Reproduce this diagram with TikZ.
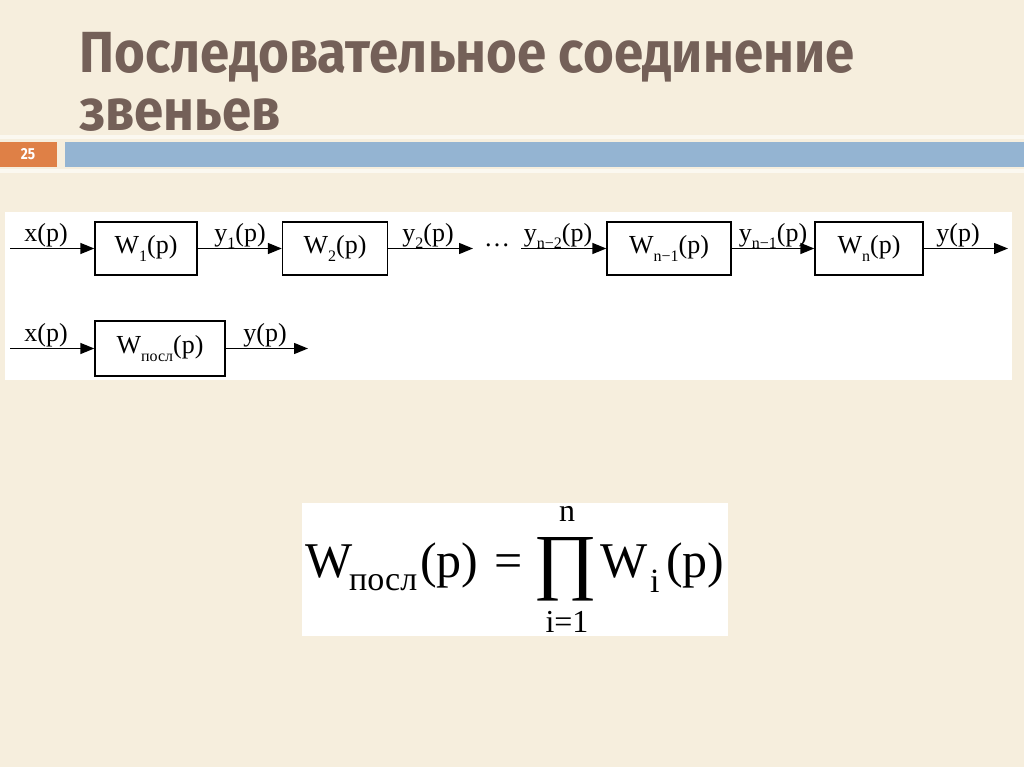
\documentclass[tikz,border=0pt]{standalone}
\usepackage{fontspec}
\usepackage{graphicx}
\setmainfont{Liberation Serif}
\newfontfamily\titlefont{Fira Sans}
\usetikzlibrary{arrows.meta}
\definecolor{bg}{RGB}{246,238,221}
\definecolor{titlec}{RGB}{116,96,88}
\definecolor{barblue}{RGB}{148,180,210}
\definecolor{barorange}{RGB}{223,128,70}
\definecolor{hilite}{RGB}{251,248,240}
\newcommand\dsub[1]{\raisebox{-0.3em}{\fontsize{16}{16}\selectfont #1}}
\begin{document}
\begin{tikzpicture}[x=1pt,y=-1pt,
  blk/.style={draw, line width=1.4pt, minimum height=53pt, inner sep=0pt, font=\fontsize{26}{26}\selectfont},
  sig/.style={line width=1.4pt, -{Triangle[length=14pt,width=11pt]}},
  lbl/.style={anchor=base, inner sep=0pt, font=\fontsize{26}{26}\selectfont},
  ttl/.style={anchor=base west, inner sep=0pt, text=titlec, font=\titlefont\bfseries\fontsize{58}{58}\selectfont},
  fml/.style={anchor=base west, inner sep=0pt, font=\fontsize{50}{50}\selectfont},
  fsm/.style={inner sep=0pt, font=\fontsize{32}{32}\selectfont}]
\useasboundingbox (0,0) rectangle (1024,767);
\fill[bg] (0,0) rectangle (1024,767);
% header bar
\fill[hilite] (0,135) rectangle (1024,139);
\fill[hilite] (0,169) rectangle (1024,173);
\fill[barorange] (0,142) rectangle (57,167);
\fill[barblue] (65,142) rectangle (1024,167);
\node[inner sep=0pt, text=white, font=\titlefont\bfseries\fontsize{16}{16}\selectfont] (num) at (28,154.5) {\scalebox{0.85}[1]{25}};
% title
\node[ttl] (t1) at (79,73) {\scalebox{0.91}[1]{Последовательное соединение}};
\node[ttl] (t2) at (79,131) {\scalebox{0.91}[1]{звеньев}};
% diagram panel
\fill[white] (5,212) rectangle (1012,380);
\node[blk, minimum width=102pt] (w1) at (146,248.5) {W\dsub{1}(p)};
\node[blk, minimum width=105pt] (w2) at (335,248.5) {W\dsub{2}(p)};
\node[blk, minimum width=124pt] (wn1) at (669,248.5) {W\dsub{n−1}(p)};
\node[blk, minimum width=108pt] (wn) at (869,248.5) {W\dsub{n}(p)};
\node[blk, minimum width=130pt, minimum height=55pt] (wp) at (160,348.5) {W\dsub{посл}(p)};
\coordinate (in1) at (10,248.5);
\coordinate (d1) at (473,248.5);
\coordinate (s2) at (521,248.5);
\coordinate (out1) at (1008,248.5);
\coordinate (in2) at (10,348.5);
\coordinate (out2) at (308,348.5);
\node[lbl] (dots) at (497,246) {…};
\draw[sig] (in1) -- (w1);
\draw[sig] (w1) -- (w2);
\draw[sig] (w2) -- (d1);
\draw[sig] (s2) -- (wn1);
\draw[sig] (wn1) -- (wn);
\draw[sig] (wn) -- (out1);
\draw[sig] (in2) -- (wp);
\draw[sig] (wp) -- (out2);
\node[lbl] (lx1) at (46,241) {x(p)};
\node[lbl] (ly1) at (240,241) {y\dsub{1}(p)};
\node[lbl] (ly2) at (428,241) {y\dsub{2}(p)};
\node[lbl] (lyn2) at (558,241) {y\dsub{n−2}(p)};
\node[lbl] (lyn1) at (773,241) {y\dsub{n−1}(p)};
\node[lbl] (ly) at (958,241) {y(p)};
\node[lbl] (lx2) at (46,341) {x(p)};
\node[lbl] (ly3) at (265,341) {y(p)};
% formula panel
\fill[white] (302,503) rectangle (728,636);
\node[fml] (fw) at (305,577) {W};
\node[fml, font=\fontsize{34}{34}\selectfont] (fposl) at (349,590) {посл};
\node[fml] (fp1) at (420,577) {(p)};
\node[fml] (feq) at (494,577) {=};
\node[inner sep=0pt] (fprod) at (566,569) {\resizebox{64pt}{48pt}{∏}};
\node[fsm] (fn) at (567,514) {n};
\node[fsm, anchor=base] (fi1) at (567,632) {i=1};
\node[fml] (fw2) at (600,577) {W};
\node[fml, font=\fontsize{34}{34}\selectfont] (fi) at (650,592) {i};
\node[fml] (fp2) at (666,577) {(p)};
\end{tikzpicture}
\end{document}
